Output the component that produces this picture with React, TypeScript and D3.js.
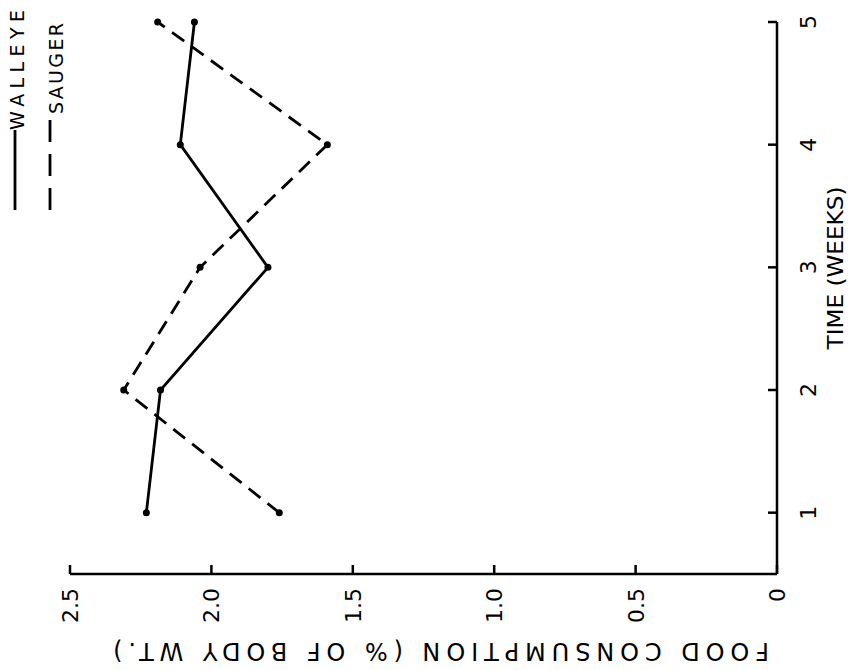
import * as d3 from "d3";

const WEEKS = [1, 2, 3, 4, 5];
const WALLEYE = [2.23, 2.18, 1.8, 2.11, 2.06];
const SAUGER = [1.76, 2.31, 2.04, 1.59, 2.19];
const CONS_TICKS = [2.5, 2.0, 1.5, 1.0, 0.5, 0];
const CONS_LABELS = ["2.5", "2.0", "1.5", "1.0", "0.5", "0"];

const FONT = "DejaVu Sans, Liberation Sans, sans-serif";
const W = 850;
const H = 670;

export default function App() {
  // The figure is the original plot turned 90° counter-clockwise:
  // consumption runs right-to-left along the bottom, time bottom-to-top on the right.
  const x = d3.scaleLinear().domain([0, 2.5]).range([777, 70]);
  const y = d3.scaleLinear().domain([0.5, 5]).range([574, 22]);

  const line = d3.line<number>()
    .x((v) => x(v))
    .y((_, i) => y(WEEKS[i]));

  const series = [
    { key: "walleye", values: WALLEYE, dash: undefined as string | undefined },
    { key: "sauger", values: SAUGER, dash: "15 9" },
  ];

  const axisY = y(0.5);
  const axisX = x(0);

  return (
    <svg width={W} height={H} style={{ position: "absolute", left: 0, top: 0, background: "#fff" }}>
      <rect width={W} height={H} fill="#fff" />

      {/* consumption axis (bottom) */}
      <line x1={x(2.5)} x2={axisX} y1={axisY} y2={axisY} stroke="#000" strokeWidth={2.5} />
      {CONS_TICKS.map((t, i) => (
        <g key={t}>
          <line x1={x(t)} x2={x(t)} y1={axisY} y2={axisY - 9} stroke="#000" strokeWidth={2.5} />
          <text
            x={x(t) + 8} y={588}
            transform={`rotate(-90, ${x(t) + 8}, 588)`}
            textAnchor="end" fontSize={22} fontFamily={FONT} fill="#000"
          >
            {CONS_LABELS[i]}
          </text>
        </g>
      ))}
      <text
        x={441} y={643}
        transform="rotate(180, 441, 643)"
        textAnchor="middle" fontSize={24} fontFamily={FONT} fill="#000"
        textLength={656} lengthAdjust="spacing"
      >
        FOOD CONSUMPTION (% OF BODY WT.)
      </text>

      {/* time axis (right) */}
      <line x1={axisX} x2={axisX} y1={axisY} y2={y(5)} stroke="#000" strokeWidth={2.5} />
      {WEEKS.map((wk) => (
        <g key={wk}>
          <line x1={axisX} x2={axisX - 9} y1={y(wk)} y2={y(wk)} stroke="#000" strokeWidth={2.5} />
          <text
            x={816} y={y(wk)}
            transform={`rotate(-90, 816, ${y(wk)})`}
            textAnchor="middle" fontSize={22} fontFamily={FONT} fill="#000"
          >
            {wk}
          </text>
        </g>
      ))}
      <text
        x={843} y={268}
        transform="rotate(-90, 843, 268)"
        textAnchor="middle" fontSize={21} fontFamily={FONT} fill="#000"
        textLength={163} lengthAdjust="spacingAndGlyphs"
      >
        TIME (WEEKS)
      </text>

      {/* data */}
      {series.map((s) => (
        <g key={s.key}>
          <path d={line(s.values) ?? ""} fill="none" stroke="#000" strokeWidth={2.8}
            strokeDasharray={s.dash} />
          {s.values.map((v, i) => (
            <circle key={i} cx={x(v)} cy={y(WEEKS[i])} r={3.5} fill="#000" />
          ))}
        </g>
      ))}

      {/* legend */}
      <line x1={15} x2={15} y1={210} y2={130} stroke="#000" strokeWidth={2.8} />
      <text x={24} y={130} transform="rotate(-90, 24, 130)" fontSize={19} fontFamily={FONT} fill="#000"
        textLength={120} lengthAdjust="spacing">
        WALLEYE
      </text>
      <line x1={50} x2={50} y1={210} y2={115} stroke="#000" strokeWidth={2.8} strokeDasharray="22 12" />
      <text x={63} y={114} transform="rotate(-90, 63, 114)" fontSize={19} fontFamily={FONT} fill="#000"
        textLength={91} lengthAdjust="spacing">
        SAUGER
      </text>
    </svg>
  );
}
